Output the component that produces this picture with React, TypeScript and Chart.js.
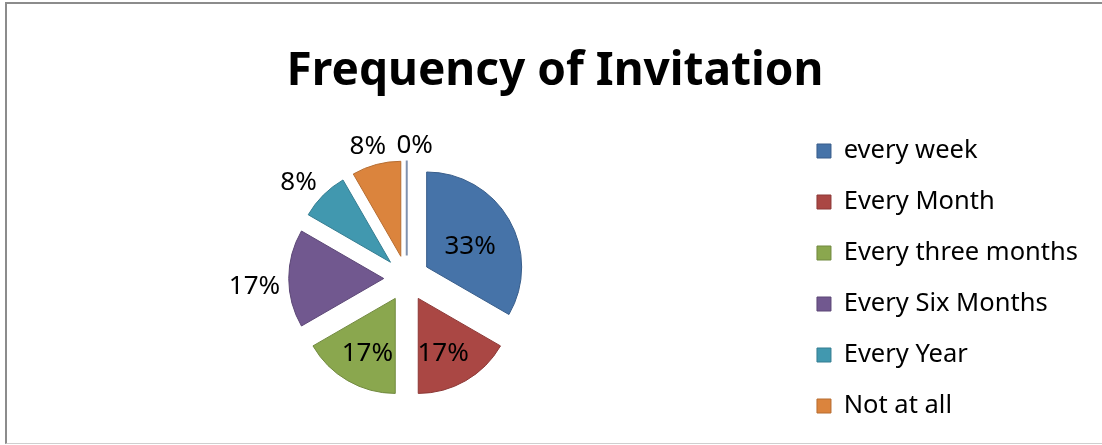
import { useEffect, useRef } from "react";
import { Chart, registerables } from "chart.js";

Chart.register(...registerables);

// data (12 answers in total)
const categories = [
  "every week",
  "Every Month",
  "Every three months",
  "Every Six Months",
  "Every Year",
  "Not at all",
  "Other",
];
const counts = [4, 2, 2, 2, 1, 1, 0];
const legendHidden = ["Other"];

const fillColors = ["#4673A8", "#AA4744", "#8AA74E", "#71588F", "#4198AF", "#DB843D", "#8A9CB8"];
const borderColors = ["#385D8A", "#8C3836", "#71893F", "#5C4776", "#357D91", "#B66D31", "#7F91AE"];
// where each % label sits, as a share of the radius past the exploded tip,
// plus a small nudge in px (Excel "best fit" placement)
const labelDist = [0.48, 0.65, 0.67, 1.36, 1.25, 1.18, 1.14];
const labelNudgeX = [4, -6, 4, 0, -8, -4, 8];
const labelNudgeY = [2, 2, 0, 8, 4, -1, -2];

const EXPLODE = 23;
const RADIUS = 95;

const explodePlugin = {
  id: "explodeSlices",
  beforeDatasetsDraw(chart: any) {
    const ctx = chart.ctx;
    const meta = chart.getDatasetMeta(0);
    meta.data.forEach((arc: any) => {
      const { x, y, startAngle, endAngle, outerRadius } = arc.getProps(
        ["x", "y", "startAngle", "endAngle", "outerRadius"],
        true
      );
      const mid = (startAngle + endAngle) / 2;
      ctx.save();
      ctx.translate(Math.cos(mid) * EXPLODE, Math.sin(mid) * EXPLODE);
      if (endAngle - startAngle === 0) {
        // zero slice: Excel still shows its edge as a thin line
        ctx.strokeStyle = arc.options.borderColor;
        ctx.lineWidth = 2;
        ctx.beginPath();
        ctx.moveTo(x, y);
        ctx.lineTo(x + Math.cos(mid) * outerRadius, y + Math.sin(mid) * outerRadius);
        ctx.stroke();
      } else {
        arc.draw(ctx);
      }
      ctx.restore();
    });
    return false;
  },
  afterDraw(chart: any) {
    const ctx = chart.ctx;
    const meta = chart.getDatasetMeta(0);
    const values = chart.data.datasets[0].data as number[];
    const total = values.reduce((a, b) => a + b, 0);
    ctx.save();
    ctx.font = '26px "Noto Sans", sans-serif';
    ctx.fillStyle = "#000";
    ctx.textAlign = "center";
    ctx.textBaseline = "middle";
    meta.data.forEach((arc: any, i: number) => {
      const { x, y, startAngle, endAngle, outerRadius } = arc.getProps(
        ["x", "y", "startAngle", "endAngle", "outerRadius"],
        true
      );
      const mid = (startAngle + endAngle) / 2;
      const d = EXPLODE + outerRadius * labelDist[i];
      const pct = Math.round((values[i] / total) * 100) + "%";
      ctx.fillText(
        pct,
        x + Math.cos(mid) * d + labelNudgeX[i],
        y + Math.sin(mid) * d + labelNudgeY[i]
      );
    });
    ctx.restore();
  },
};

export default function App() {
  const canvasRef = useRef<HTMLCanvasElement>(null);
  const chartRef = useRef<Chart | null>(null);

  useEffect(() => {
    if (!canvasRef.current) return;
    if (chartRef.current) chartRef.current.destroy();

    chartRef.current = new Chart(canvasRef.current, {
      type: "pie",
      data: {
        labels: categories,
        datasets: [
          {
            data: counts,
            backgroundColor: fillColors,
            borderColor: borderColors,
            borderWidth: 1,
          },
        ],
      },
      options: {
        responsive: false,
        animation: false,
        events: [],
        radius: RADIUS,
        layout: { padding: { left: 22, right: 14, top: 0, bottom: 0 } },
        plugins: {
          tooltip: { enabled: false },
          title: {
            display: true,
            text: "Frequency of Invitation",
            color: "#000",
            font: { family: '"Noto Sans", sans-serif', size: 46, weight: "bold", lineHeight: 1 },
            padding: { top: 49, bottom: 17 },
          },
          legend: {
            position: "right",
            fullSize: false,
            labels: {
              color: "#000",
              font: { family: '"Noto Sans", sans-serif', size: 25.5 },
              boxWidth: 14,
              boxHeight: 14,
              padding: 25.5,
              filter: (item: any) => !legendHidden.includes(item.text),
            },
          },
        },
      } as any,
      plugins: [explodePlugin],
    });

    return () => {
      if (chartRef.current) {
        chartRef.current.destroy();
        chartRef.current = null;
      }
    };
  }, []);

  return (
    <div style={{ position: "fixed", left: 0, top: 0, width: 1102, height: 445, background: "#fff" }}>
      <div
        style={{
          position: "absolute",
          left: 5,
          top: 2,
          width: 1097,
          height: 439,
          borderLeft: "2px solid #8c8c8c",
          borderTop: "2px solid #8c8c8c",
          borderBottom: "1px solid #cfcfcf",
        }}
      />
      <canvas ref={canvasRef} width={1102} height={445} style={{ position: "absolute", left: 0, top: 0 }} />
    </div>
  );
}
